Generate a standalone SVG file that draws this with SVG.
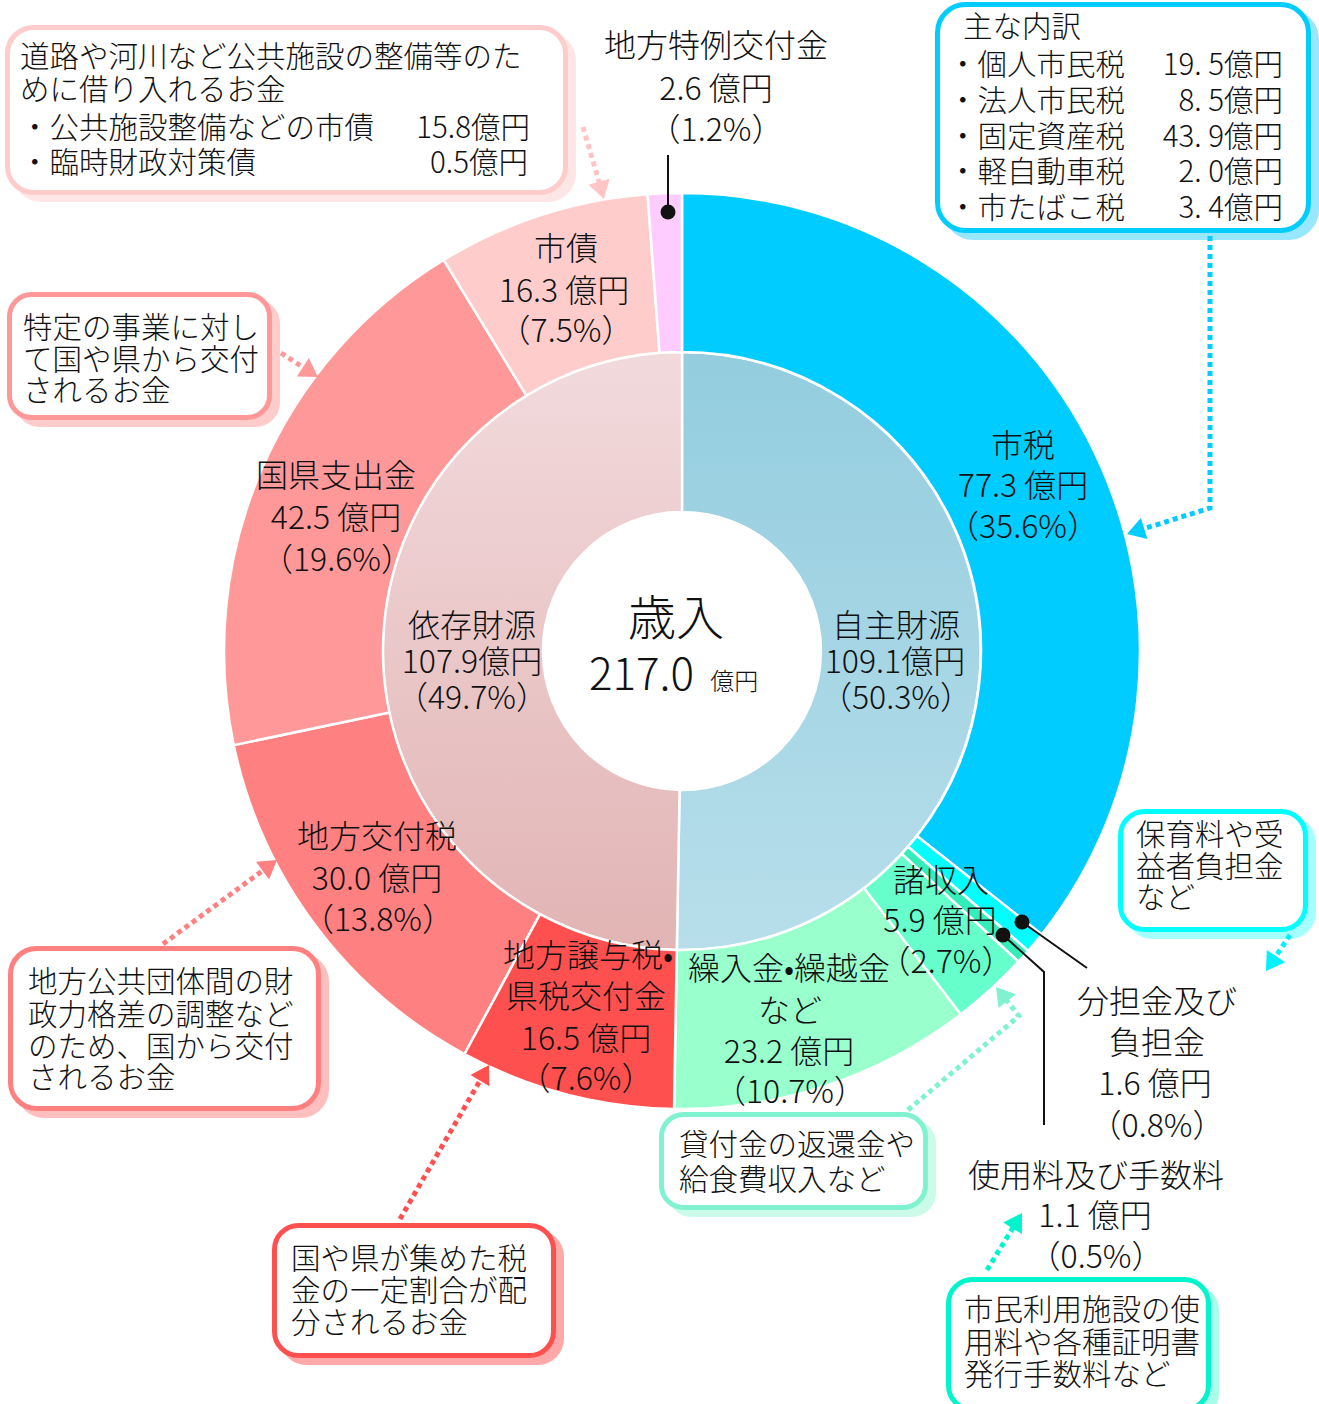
<svg xmlns="http://www.w3.org/2000/svg" width="1319" height="1404" viewBox="0 0 1319 1404">
<defs>
  <linearGradient id="gJishu" gradientUnits="userSpaceOnUse" x1="0" y1="352" x2="0" y2="950">
    <stop offset="0" stop-color="#93CDDE"/><stop offset="1" stop-color="#B8DEEB"/>
  </linearGradient>
  <linearGradient id="gIzon" gradientUnits="userSpaceOnUse" x1="0" y1="352" x2="0" y2="950">
    <stop offset="0" stop-color="#F2DADC"/><stop offset="1" stop-color="#E2B4B4"/>
  </linearGradient>
  <marker id="a1" markerUnits="userSpaceOnUse" markerWidth="20" markerHeight="24" viewBox="-15 -12 20 24" refX="0" refY="0" orient="auto"><path d="M4,0 L-14,-11 L-14,11 Z" fill="#FFC4C4"/></marker>
  <marker id="a2" markerUnits="userSpaceOnUse" markerWidth="20" markerHeight="24" viewBox="-15 -12 20 24" refX="0" refY="0" orient="auto"><path d="M4,0 L-14,-11 L-14,11 Z" fill="#FF9999"/></marker>
  <marker id="a3" markerUnits="userSpaceOnUse" markerWidth="20" markerHeight="24" viewBox="-15 -12 20 24" refX="0" refY="0" orient="auto"><path d="M4,0 L-14,-11 L-14,11 Z" fill="#00CCFF"/></marker>
  <marker id="a4" markerUnits="userSpaceOnUse" markerWidth="20" markerHeight="24" viewBox="-15 -12 20 24" refX="0" refY="0" orient="auto"><path d="M4,0 L-14,-11 L-14,11 Z" fill="#00F2FF"/></marker>
  <marker id="a5" markerUnits="userSpaceOnUse" markerWidth="20" markerHeight="24" viewBox="-15 -12 20 24" refX="0" refY="0" orient="auto"><path d="M4,0 L-14,-11 L-14,11 Z" fill="#00F5CC"/></marker>
  <marker id="a6" markerUnits="userSpaceOnUse" markerWidth="20" markerHeight="24" viewBox="-15 -12 20 24" refX="0" refY="0" orient="auto"><path d="M4,0 L-14,-11 L-14,11 Z" fill="#80F2D0"/></marker>
  <marker id="a7" markerUnits="userSpaceOnUse" markerWidth="20" markerHeight="24" viewBox="-15 -12 20 24" refX="0" refY="0" orient="auto"><path d="M4,0 L-14,-11 L-14,11 Z" fill="#FF8080"/></marker>
  <marker id="a8" markerUnits="userSpaceOnUse" markerWidth="20" markerHeight="24" viewBox="-15 -12 20 24" refX="0" refY="0" orient="auto"><path d="M4,0 L-14,-11 L-14,11 Z" fill="#FF5050"/></marker>
</defs>
<style>
  text { font-family: "Noto Sans CJK JP", "Noto Sans", sans-serif; font-weight: 300; fill: #111; }
  .lbl { font-size: 32px; text-anchor: middle; }
  .co { font-size: 29.5px; }
  .end { text-anchor: end; }
  .seg { stroke: #fff; stroke-width: 2.5; stroke-linejoin: round; }
  .box { fill: #fff; stroke-width: 5; }
  .shd { stroke-width: 5; }
  .dl { stroke-width: 5; stroke-dasharray: 5 4; fill: none; }
  .lead { stroke: #111; stroke-width: 2; fill: none; }
</style>
<rect width="1319" height="1404" fill="#fff"/>

<!-- ring segments -->
<g id="jishu-zaigen">
  <path class="seg" fill="url(#gJishu)" d="M682,352 A299,299 0 1 1 676.81,949.96 L679.59,789.98 A139,139 0 1 0 682,512 Z"/>
</g>
<g id="izon-zaigen">
  <path class="seg" fill="url(#gIzon)" d="M676.81,949.96 A299,299 0 0 1 682,352 L682,512 A139,139 0 0 0 679.59,789.98 Z"/>
</g>
<g id="shizei">
  <path class="seg" fill="#00CCFF" d="M682,352 L682,193 A458,458 0 0 1 1041.73,934.48 L916.85,836.07 A299,299 0 0 0 682,352 Z"/>
</g>
<g id="buntankin">
  <path class="seg" fill="#00FFFF" d="M916.85,836.07 L1041.73,934.48 A458,458 0 0 1 1028.21,950.83 L908.02,846.74 A299,299 0 0 0 916.85,836.07 Z"/>
</g>
<g id="shiyoryo">
  <path class="seg" fill="#33EEBB" d="M908.02,846.74 L1028.21,950.83 A458,458 0 0 1 1018.49,961.71 L901.68,853.84 A299,299 0 0 0 908.02,846.74 Z"/>
</g>
<g id="shoshunyu">
  <path class="seg" fill="#66FFCC" d="M901.68,853.84 L1018.49,961.71 A458,458 0 0 1 960.77,1014.39 L863.99,888.23 A299,299 0 0 0 901.68,853.84 Z"/>
</g>
<g id="kurikomi">
  <path class="seg" fill="#99FFCC" d="M863.99,888.23 L960.77,1014.39 A458,458 0 0 1 674.05,1108.93 L676.81,949.96 A299,299 0 0 0 863.99,888.23 Z"/>
</g>
<g id="joyozei">
  <path class="seg" fill="#FF5050" d="M676.81,949.96 L674.05,1108.93 A458,458 0 0 1 464.38,1054.01 L539.93,914.10 A299,299 0 0 0 676.81,949.96 Z"/>
</g>
<g id="kofuzei">
  <path class="seg" fill="#FF8080" d="M539.93,914.10 L464.38,1054.01 A458,458 0 0 1 233.78,745.14 L389.38,712.46 A299,299 0 0 0 539.93,914.10 Z"/>
</g>
<g id="kokken">
  <path class="seg" fill="#FF9999" d="M389.38,712.46 L233.78,745.14 A458,458 0 0 1 443.68,259.88 L526.42,395.66 A299,299 0 0 0 389.38,712.46 Z"/>
</g>
<g id="shisai">
  <path class="seg" fill="#FFCCCC" d="M526.42,395.66 L443.68,259.88 A458,458 0 0 1 647.55,194.30 L659.51,352.85 A299,299 0 0 0 526.42,395.66 Z"/>
</g>
<g id="tokurei">
  <path class="seg" fill="#FFCCFF" d="M659.51,352.85 L647.55,194.30 A458,458 0 0 1 682,193 L682,352 A299,299 0 0 0 659.51,352.85 Z"/>
</g>

<!-- segment labels -->
<g id="label-center">
  <text x="676" y="635" font-size="48" text-anchor="middle">歳入</text>
  <text x="589" y="690"><tspan font-size="44">217.0</tspan><tspan font-size="24" dx="16">億円</tspan></text>
</g>
<g id="label-jishu"><text class="lbl"><tspan x="896" y="637">自主財源</tspan><tspan x="895" y="673">109.1億円</tspan><tspan x="896" y="709">（50.3%）</tspan></text></g>
<g id="label-izon"><text class="lbl"><tspan x="472" y="637">依存財源</tspan><tspan x="472" y="673">107.9億円</tspan><tspan x="472" y="709">（49.7%）</tspan></text></g>
<g id="label-shizei"><text class="lbl"><tspan x="1023" y="457">市税</tspan><tspan x="1023" y="497">77.3 億円</tspan><tspan x="1023" y="538">（35.6%）</tspan></text></g>
<g id="label-buntankin"><text class="lbl"><tspan x="1157" y="1013">分担金及び</tspan><tspan x="1157" y="1054">負担金</tspan><tspan x="1155" y="1095">1.6 億円</tspan><tspan x="1157" y="1137">（0.8%）</tspan></text></g>
<g id="label-shiyoryo"><text class="lbl"><tspan x="1096" y="1187">使用料及び手数料</tspan><tspan x="1095" y="1227">1.1 億円</tspan><tspan x="1096" y="1268">（0.5%）</tspan></text></g>
<g id="label-shoshunyu"><text class="lbl"><tspan x="941" y="892">諸収入</tspan><tspan x="940" y="932">5.9 億円</tspan><tspan x="946" y="973">（2.7%）</tspan></text></g>
<g id="label-kurikomi"><text class="lbl"><tspan x="789" y="980">繰入金•繰越金</tspan><tspan x="790" y="1022">など</tspan><tspan x="789" y="1063">23.2 億円</tspan><tspan x="790" y="1103">（10.7%）</tspan></text></g>
<g id="label-joyozei"><text class="lbl"><tspan x="588" y="967">地方譲与税•</tspan><tspan x="586" y="1008">県税交付金</tspan><tspan x="586" y="1050">16.5 億円</tspan><tspan x="586" y="1090">（7.6%）</tspan></text></g>
<g id="label-kofuzei"><text class="lbl"><tspan x="377" y="848">地方交付税</tspan><tspan x="377" y="890">30.0 億円</tspan><tspan x="378" y="931">（13.8%）</tspan></text></g>
<g id="label-kokken"><text class="lbl"><tspan x="336" y="487">国県支出金</tspan><tspan x="336" y="529">42.5 億円</tspan><tspan x="337" y="571">（19.6%）</tspan></text></g>
<g id="label-shisai"><text class="lbl"><tspan x="566" y="260">市債</tspan><tspan x="564" y="302">16.3 億円</tspan><tspan x="566" y="342">（7.5%）</tspan></text></g>
<g id="label-tokurei"><text class="lbl"><tspan x="716" y="57">地方特例交付金</tspan><tspan x="716" y="100">2.6 億円</tspan><tspan x="716" y="141">（1.2%）</tspan></text></g>

<!-- callout boxes -->
<g id="box-shisai">
  <rect class="shd" x="15.5" y="34.5" width="558" height="165" rx="26" fill="#FFE6E6" stroke="#FFE6E6"/>
  <rect class="box" x="7.5" y="27.5" width="558" height="165" rx="26" stroke="#FFCCCC"/>
  <text class="co"><tspan x="20" y="67">道路や河川など公共施設の整備等のた</tspan><tspan x="20" y="100">めに借り入れるお金</tspan><tspan x="20" y="138">・公共施設整備などの市債</tspan><tspan x="20" y="173">・臨時財政対策債</tspan></text>
  <text class="co end"><tspan x="530" y="138">15.8億円</tspan><tspan x="528" y="173">0.5億円</tspan></text>
</g>
<g id="box-kokken">
  <rect class="shd" x="17.5" y="301.5" width="260" height="123" rx="22" fill="#FFCCCC" stroke="#FFCCCC"/>
  <rect class="box" x="9.5" y="294.5" width="260" height="123" rx="22" stroke="#FF9999"/>
  <text class="co"><tspan x="23" y="338">特定の事業に対し</tspan><tspan x="23" y="370">て国や県から交付</tspan><tspan x="23" y="401">されるお金</tspan></text>
</g>
<g id="box-shizei">
  <rect class="shd" x="945.5" y="11.5" width="371" height="226" rx="28" fill="#99E6FF" stroke="#99E6FF"/>
  <rect class="box" x="937.5" y="4.5" width="371" height="226" rx="28" stroke="#00CCFF"/>
  <text class="co"><tspan x="963" y="37">主な内訳</tspan><tspan x="948" y="75">・個人市民税</tspan><tspan x="948" y="111">・法人市民税</tspan><tspan x="948" y="147">・固定資産税</tspan><tspan x="948" y="182">・軽自動車税</tspan><tspan x="948" y="218">・市たばこ税</tspan></text>
  <text class="co end"><tspan x="1283" y="75">19. 5億円</tspan><tspan x="1283" y="111">8. 5億円</tspan><tspan x="1283" y="147">43. 9億円</tspan><tspan x="1283" y="182">2. 0億円</tspan><tspan x="1283" y="218">3. 4億円</tspan></text>
</g>
<g id="box-buntankin">
  <rect class="shd" x="1128.5" y="818.5" width="185" height="118" rx="24" fill="#A6FFFF" stroke="#A6FFFF"/>
  <rect class="box" x="1120.5" y="811.5" width="185" height="118" rx="24" stroke="#00FFFF"/>
  <text class="co"><tspan x="1136" y="845">保育料や受</tspan><tspan x="1136" y="877">益者負担金</tspan><tspan x="1136" y="908">など</tspan></text>
</g>
<g id="box-shiyoryo">
  <rect class="shd" x="956.5" y="1286.5" width="260" height="130" rx="24" fill="#A6FFE6" stroke="#A6FFE6"/>
  <rect class="box" x="948.5" y="1279.5" width="260" height="130" rx="24" stroke="#00F5CC"/>
  <text class="co"><tspan x="964" y="1320">市民利用施設の使</tspan><tspan x="964" y="1353">用料や各種証明書</tspan><tspan x="964" y="1385">発行手数料など</tspan></text>
</g>
<g id="box-kurikomi">
  <rect class="shd" x="669.5" y="1121.5" width="264" height="93" rx="22" fill="#CCFBEA" stroke="#CCFBEA"/>
  <rect class="box" x="661.5" y="1114.5" width="264" height="93" rx="22" stroke="#80F2D0"/>
  <text class="co"><tspan x="679" y="1155">貸付金の返還金や</tspan><tspan x="679" y="1190">給食費収入など</tspan></text>
</g>
<g id="box-kofuzei">
  <rect class="shd" x="18.5" y="955.5" width="308" height="160" rx="26" fill="#FFBFBF" stroke="#FFBFBF"/>
  <rect class="box" x="10.5" y="948.5" width="308" height="160" rx="26" stroke="#FF8080"/>
  <text class="co"><tspan x="28" y="992">地方公共団体間の財</tspan><tspan x="28" y="1025">政力格差の調整など</tspan><tspan x="28" y="1057">のため、国から交付</tspan><tspan x="28" y="1088">されるお金</tspan></text>
</g>
<g id="box-joyozei">
  <rect class="shd" x="282.5" y="1232.5" width="279" height="130" rx="24" fill="#FFA8A8" stroke="#FFA8A8"/>
  <rect class="box" x="274.5" y="1225.5" width="279" height="130" rx="24" stroke="#FF5050"/>
  <text class="co"><tspan x="291" y="1269">国や県が集めた税</tspan><tspan x="291" y="1301">金の一定割合が配</tspan><tspan x="291" y="1333">分されるお金</tspan></text>
</g>

<!-- connectors -->
<g id="connectors">
  <path class="dl" stroke="#FFC4C4" d="M583,127 L602.9,195.2" marker-end="url(#a1)"/>
  <path class="dl" stroke="#FF9999" d="M281,353 L314.6,374.8" marker-end="url(#a2)"/>
  <path class="dl" stroke="#00CCFF" d="M1210,236 L1210,508 L1130.8,532.8" marker-end="url(#a3)"/>
  <path class="dl" stroke="#00F2FF" d="M1290,935 L1268.2,967.7" marker-end="url(#a4)"/>
  <path class="dl" stroke="#00F5CC" d="M987,1270 L1019.9,1216.4" marker-end="url(#a5)"/>
  <path class="dl" stroke="#80F2D0" d="M908,1110 L1019,1016 L998.5,990.1" marker-end="url(#a6)"/>
  <path class="dl" stroke="#FF8080" d="M163,944 L273.8,862.4" marker-end="url(#a7)"/>
  <path class="dl" stroke="#FF5050" d="M400,1219 L487,1068.5" marker-end="url(#a8)"/>
  <path class="lead" d="M668,155 L668,211"/>
  <circle cx="668" cy="212" r="7.5" fill="#111"/>
  <path class="lead" d="M1022,922 L1087,968"/>
  <circle cx="1022" cy="922" r="7.5" fill="#111"/>
  <path class="lead" d="M1003,935 L1044,972 L1044,1125"/>
  <circle cx="1003" cy="935" r="7.5" fill="#111"/>
</g>
</svg>
